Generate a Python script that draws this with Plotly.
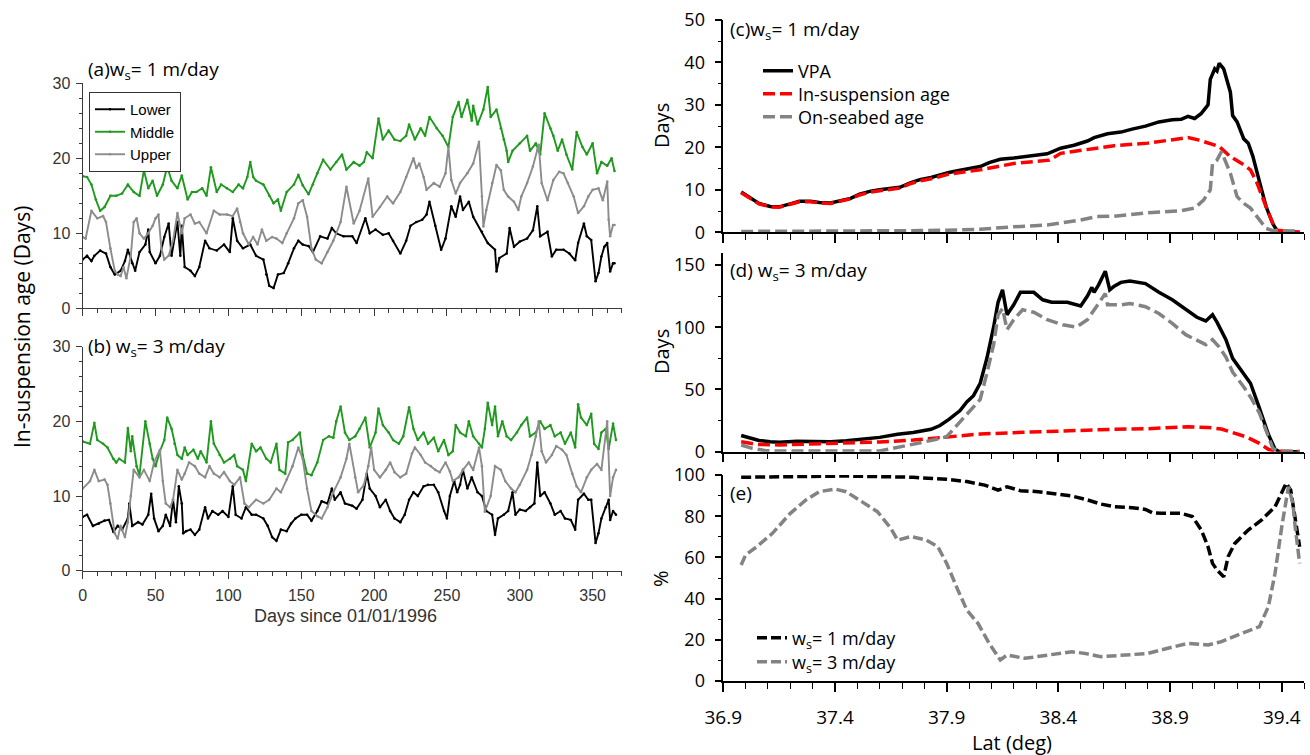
import plotly.graph_objects as go

W, H = 1310, 755

# ---------------- Panel (a): w_s = 1 m/day, in-suspension age by layer ----------------
a_lower_day = [0, 3, 6, 8, 12, 16, 19, 22, 26, 29, 31, 34, 36, 39, 43, 45, 46, 50, 53, 56, 59, 61, 63, 65, 67,
               68, 70, 74, 77, 80, 84, 87, 92, 97, 101, 103, 106, 110, 115, 119, 124, 126, 128, 131, 134, 138,
               141, 145, 148, 151, 155, 158, 163, 168, 171, 174, 179, 185, 188, 194, 197, 201, 206, 210, 213,
               218, 222, 225, 229, 233, 236, 238, 242, 246, 249, 253, 256, 259, 261, 265, 268, 274, 278, 283,
               284, 286, 291, 293, 296, 300, 305, 309, 312, 314, 319, 322, 325, 330, 334, 338, 340, 344, 346,
               349, 352, 354, 356, 358, 360, 362, 364, 365]
a_lower_age = [6.5, 7.0, 6.3, 7.0, 7.7, 7.3, 5.5, 4.5, 5.0, 6.3, 7.8, 6.0, 5.0, 7.5, 8.5, 10.5, 7.5, 6.0, 7.0, 9.5,
               11.3, 7.0, 9.5, 11.5, 7.0, 11.0, 5.5, 5.0, 4.3, 5.5, 9.0, 8.0, 7.7, 8.5, 7.5, 12.0, 9.0, 8.0, 8.5,
               7.0, 6.5, 4.5, 3.0, 2.7, 4.5, 4.7, 6.0, 8.0, 9.0, 8.5, 8.3, 7.5, 9.6, 9.3, 10.7, 10.0, 9.6, 9.6,
               8.7, 12.0, 10.0, 10.5, 9.8, 10.0, 9.0, 7.3, 9.0, 11.0, 11.5, 11.8, 12.5, 14.2, 11.0, 7.8, 9.3,
               13.6, 12.2, 14.9, 13.1, 14.2, 12.2, 10.2, 8.7, 7.8, 4.9, 6.7, 7.3, 10.7, 8.2, 8.9, 9.3, 10.4,
               13.6, 9.6, 10.2, 6.9, 7.8, 7.8, 7.3, 6.4, 8.7, 11.3, 9.6, 9.1, 3.6, 4.7, 6.9, 8.2, 8.7, 4.9,
               6.0, 6.0]

a_middle_day = [0, 3, 6, 9, 12, 15, 19, 23, 27, 31, 35, 39, 42, 45, 48, 51, 55, 58, 61, 65, 68, 72, 75, 78, 82,
                85, 88, 92, 95, 99, 103, 107, 110, 113, 115, 117, 119, 124, 128, 131, 134, 136, 140, 145, 148,
                151, 155, 158, 161, 165, 170, 174, 178, 181, 186, 190, 193, 195, 199, 203, 206, 210, 214, 218,
                222, 224, 228, 232, 235, 238, 243, 247, 251, 254, 258, 260, 264, 267, 268, 271, 275, 278, 280,
                284, 287, 289, 291, 292, 295, 300, 305, 307, 311, 314, 317, 321, 323, 326, 329, 332, 336, 339,
                343, 346, 350, 353, 356, 360, 363, 365]
a_middle_age = [17.6, 17.5, 16.5, 14.5, 13.0, 13.5, 15.0, 15.0, 15.3, 16.5, 15.5, 15.0, 18.4, 16.0, 17.0, 15.0,
                16.5, 18.9, 17.0, 16.0, 17.7, 14.5, 15.5, 15.5, 16.0, 15.0, 18.8, 15.5, 16.5, 16.0, 15.5, 16.5,
                16.0, 17.5, 19.5, 17.5, 17.0, 16.5, 15.0, 14.0, 14.5, 13.0, 15.5, 16.5, 17.8, 16.4, 15.2, 16.5,
                18.0, 19.8, 18.5, 19.5, 20.5, 18.5, 19.5, 19.0, 19.5, 20.8, 20.0, 25.3, 22.5, 23.7, 22.5, 22.3,
                23.0, 24.5, 22.5, 24.0, 23.0, 25.5, 24.0, 23.0, 21.5, 25.5, 27.5, 25.5, 27.8, 25.0, 27.0, 24.5,
                26.5, 29.5, 25.5, 26.5, 24.0, 22.5, 21.0, 19.5, 21.0, 22.0, 23.0, 21.0, 22.0, 20.5, 26.0, 24.0,
                23.0, 21.0, 22.5, 20.5, 18.5, 23.5, 21.5, 20.5, 22.0, 18.0, 19.5, 19.0, 20.0, 18.3]

a_upper_day = [0, 2, 6, 10, 14, 16, 19, 22, 24, 26, 28, 30, 33, 35, 37, 39, 42, 45, 48, 50, 52, 54, 56, 59, 62,
               65, 68, 70, 74, 77, 80, 85, 90, 94, 99, 103, 106, 108, 110, 114, 117, 120, 123, 126, 130, 133,
               137, 140, 145, 148, 151, 154, 157, 160, 164, 168, 172, 177, 181, 186, 190, 196, 199, 204, 209,
               213, 218, 222, 227, 229, 231, 234, 236, 241, 245, 249, 251, 253, 256, 259, 264, 268, 272, 274,
               275, 277, 281, 284, 287, 289, 292, 296, 299, 301, 305, 309, 312, 313, 315, 319, 323, 327, 330,
               333, 337, 340, 344, 347, 350, 354, 357, 360, 361, 362, 364, 365]
a_upper_age = [9.5, 9.3, 13.0, 12.0, 12.3, 11.5, 8.0, 5.0, 4.5, 4.3, 5.5, 4.0, 7.0, 11.5, 12.0, 10.0, 9.3, 10.0,
               11.0, 12.0, 12.5, 8.0, 6.5, 7.0, 9.0, 12.7, 10.0, 12.0, 12.5, 11.3, 11.5, 10.0, 13.0, 12.5, 12.5,
               12.3, 13.3, 11.5, 10.0, 8.5, 9.5, 8.5, 10.5, 9.0, 9.5, 9.3, 8.7, 10.0, 12.0, 14.0, 14.4, 12.2,
               8.0, 6.5, 6.0, 7.5, 9.0, 11.5, 16.2, 11.3, 13.0, 17.3, 12.2, 13.5, 14.9, 14.0, 15.5, 17.5, 20.0,
               18.7, 19.3, 17.5, 15.8, 16.7, 16.2, 18.0, 21.5, 17.1, 15.3, 16.7, 18.0, 19.3, 22.2, 14.9, 10.9,
               13.1, 16.7, 19.1, 18.4, 15.8, 14.9, 14.2, 13.1, 14.9, 16.7, 18.9, 21.1, 21.8, 16.7, 14.4, 17.1,
               18.2, 18.0, 16.7, 14.9, 12.7, 13.6, 14.9, 15.8, 16.0, 14.4, 16.9, 11.8, 9.6, 11.1, 11.1]

# ---------------- Panel (b): w_s = 3 m/day ----------------
b_lower_day = [0, 3, 7, 11, 15, 18, 21, 24, 27, 31, 32, 34, 38, 41, 45, 47, 49, 52, 55, 57, 60, 62, 64, 66, 68,
               69, 71, 74, 77, 80, 84, 86, 89, 93, 96, 100, 103, 105, 109, 112, 116, 119, 124, 127, 130, 133,
               136, 140, 143, 146, 150, 154, 157, 161, 164, 168, 171, 173, 177, 180, 185, 188, 192, 195, 197,
               201, 204, 208, 211, 214, 218, 221, 224, 227, 230, 234, 237, 241, 244, 248, 250, 252, 255, 257,
               259, 261, 264, 267, 271, 274, 277, 281, 283, 285, 289, 292, 295, 297, 300, 304, 307, 310, 312,
               314, 317, 321, 324, 328, 331, 335, 338, 340, 344, 347, 349, 352, 354, 356, 359, 361, 362, 364,
               366]
b_lower_age = [7.2, 7.5, 6.0, 6.3, 6.7, 6.8, 5.2, 6.0, 5.5, 7.0, 9.0, 6.0, 6.5, 6.2, 7.5, 10.3, 7.0, 5.3, 6.0,
               7.5, 6.0, 9.5, 6.5, 11.3, 9.0, 5.0, 5.3, 5.5, 4.8, 5.5, 8.5, 7.0, 8.0, 7.5, 8.0, 7.2, 11.3, 7.5,
               7.0, 8.5, 7.5, 7.5, 7.0, 6.0, 4.5, 4.0, 5.5, 5.3, 6.3, 7.0, 7.5, 7.5, 6.7, 8.0, 9.3, 9.0, 11.0,
               9.5, 10.5, 9.0, 8.7, 8.3, 9.5, 13.0, 11.0, 10.0, 8.5, 9.5, 8.0, 7.0, 6.5, 7.5, 9.5, 10.5, 10.0,
               11.3, 11.5, 11.5, 10.5, 8.0, 7.0, 10.0, 12.0, 10.5, 11.5, 13.5, 11.0, 12.5, 10.5, 10.0, 8.0, 7.5,
               4.8, 7.0, 7.5, 8.0, 10.5, 7.5, 8.2, 8.0, 8.5, 9.0, 14.5, 10.0, 10.5, 9.0, 7.5, 8.0, 7.0, 6.8, 5.5,
               9.5, 10.3, 9.5, 9.5, 3.7, 5.0, 7.0, 8.5, 9.5, 6.8, 8.0, 7.5]

b_middle_day = [0, 5, 8, 10, 14, 17, 21, 23, 25, 29, 31, 33, 34, 37, 39, 43, 46, 48, 50, 53, 56, 58, 61, 63, 65,
                68, 70, 72, 76, 79, 81, 85, 88, 90, 94, 97, 101, 104, 106, 110, 112, 116, 119, 122, 126, 129,
                133, 135, 139, 141, 144, 149, 151, 154, 157, 161, 165, 169, 172, 174, 177, 180, 183, 187, 190,
                194, 197, 201, 203, 206, 210, 213, 217, 220, 224, 227, 230, 234, 237, 241, 244, 248, 251, 254,
                256, 259, 263, 265, 268, 272, 274, 276, 278, 281, 283, 285, 288, 291, 294, 298, 301, 305, 307,
                311, 314, 317, 321, 324, 328, 331, 335, 338, 340, 342, 346, 349, 351, 354, 356, 359, 361, 364,
                366]
b_middle_age = [17.3, 17.0, 19.8, 17.5, 17.0, 16.5, 15.0, 14.5, 15.0, 14.5, 19.1, 16.0, 18.0, 14.0, 12.8, 20.0,
                17.0, 15.0, 14.0, 16.0, 17.5, 20.5, 19.0, 17.0, 15.5, 15.0, 16.5, 15.5, 16.2, 15.0, 16.0, 14.5,
                20.0, 17.0, 15.5, 14.5, 15.0, 15.5, 14.0, 13.5, 12.0, 17.0, 16.0, 16.5, 15.0, 14.5, 17.0, 13.5,
                13.0, 17.2, 17.5, 18.5, 15.5, 13.0, 12.8, 14.5, 17.5, 18.0, 17.8, 20.0, 22.0, 18.5, 17.5, 18.0,
                19.0, 20.5, 16.5, 18.5, 21.7, 19.5, 18.5, 17.5, 17.0, 18.0, 21.9, 19.0, 17.5, 18.5, 17.0, 17.8,
                16.0, 17.5, 15.5, 16.0, 19.5, 18.5, 18.0, 20.0, 18.0, 17.0, 16.5, 19.0, 22.5, 19.5, 22.0, 18.0,
                20.0, 18.0, 17.5, 18.5, 19.5, 20.5, 18.0, 18.5, 20.0, 19.0, 19.5, 18.0, 18.5, 17.0, 18.5, 16.5,
                22.3, 20.5, 19.5, 21.0, 17.0, 16.3, 18.5, 19.0, 16.3, 19.7, 17.5]

b_upper_day = [0, 5, 8, 11, 15, 17, 19, 22, 24, 26, 29, 31, 33, 35, 39, 42, 46, 49, 53, 55, 57, 60, 62, 65, 68,
               70, 73, 77, 80, 84, 87, 90, 94, 97, 101, 104, 108, 111, 114, 119, 124, 128, 133, 136, 140, 144,
               148, 151, 154, 157, 161, 164, 168, 172, 177, 181, 183, 187, 189, 193, 196, 198, 200, 204, 208,
               211, 214, 218, 222, 226, 228, 232, 235, 239, 242, 245, 249, 252, 254, 258, 261, 265, 268, 272,
               274, 276, 280, 283, 287, 290, 294, 297, 300, 305, 308, 311, 313, 315, 318, 322, 325, 329, 332,
               336, 339, 342, 346, 349, 353, 356, 360, 362, 364, 366]
b_upper_age = [11.0, 12.0, 13.5, 12.0, 12.2, 11.5, 9.0, 5.0, 4.3, 6.0, 4.5, 6.5, 10.0, 13.5, 12.5, 13.5, 12.0,
               14.5, 16.2, 12.0, 9.0, 8.5, 9.5, 13.5, 12.2, 13.0, 14.5, 14.0, 13.0, 12.5, 14.0, 13.0, 12.5, 13.2,
               12.0, 11.5, 12.5, 9.0, 8.5, 9.5, 9.0, 9.5, 11.0, 10.5, 12.2, 14.0, 16.5, 15.0, 11.0, 8.0, 7.3,
               7.0, 8.5, 10.5, 12.5, 15.0, 17.0, 12.5, 10.5, 11.5, 14.0, 16.5, 13.5, 12.5, 13.5, 14.5, 13.2,
               12.5, 13.0, 15.7, 16.5, 15.5, 14.5, 14.0, 13.5, 13.2, 14.5, 13.3, 12.0, 12.5, 13.5, 14.5, 13.5,
               16.5, 14.0, 7.9, 10.0, 14.0, 13.5, 12.0, 11.0, 10.5, 11.5, 13.5, 15.5, 18.0, 20.0, 16.0, 14.5,
               15.5, 16.7, 16.2, 15.5, 13.0, 11.3, 10.5, 12.5, 13.5, 14.3, 13.5, 20.0, 10.0, 12.5, 13.5]

# ---------------- Panel (c): w_s = 1 m/day, age along latitude ----------------
c_vpa_lat = [36.98, 37.02, 37.06, 37.11, 37.15, 37.20, 37.24, 37.29, 37.33, 37.38, 37.42, 37.47, 37.51, 37.56,
             37.60, 37.65, 37.69, 37.74, 37.78, 37.83, 37.87, 37.91, 37.96, 38.00, 38.05, 38.09, 38.14, 38.20,
             38.27, 38.35, 38.41, 38.47, 38.53, 38.56, 38.62, 38.68, 38.73, 38.79, 38.85, 38.91, 38.95, 38.98,
             39.01, 39.04, 39.07, 39.08, 39.10, 39.11, 39.12, 39.14, 39.17, 39.18, 39.20, 39.23, 39.25, 39.27,
             39.30, 39.33, 39.36, 39.38, 39.42, 39.48]
c_vpa = [9.5, 8.2, 6.8, 6.1, 6.0, 6.7, 7.3, 7.3, 7.0, 6.9, 7.3, 8.0, 9.0, 9.7, 10.0, 10.3, 10.6, 11.7, 12.4, 12.9,
         13.6, 14.1, 14.6, 15.0, 15.5, 16.4, 17.2, 17.5, 18.0, 18.5, 19.8, 20.5, 21.5, 22.3, 23.2, 23.6, 24.3,
         25.0, 26.0, 26.5, 26.6, 27.3, 26.8, 28.0, 30.0, 36.0, 38.5, 38.0, 39.8, 38.5, 33.0, 27.5, 26.0, 22.0,
         21.0, 18.0, 12.0, 6.0, 2.0, 0.3, 0.0, 0.0]

c_susp_lat = [36.98, 37.02, 37.06, 37.11, 37.15, 37.20, 37.24, 37.29, 37.33, 37.38, 37.42, 37.47, 37.51, 37.56,
              37.60, 37.65, 37.69, 37.74, 37.78, 37.83, 37.87, 37.91, 37.96, 38.00, 38.05, 38.20, 38.36, 38.41,
              38.57, 38.65, 38.80, 38.89, 38.98, 39.03, 39.09, 39.12, 39.17, 39.23, 39.26, 39.29, 39.33, 39.36,
              39.38, 39.48]
c_susp = [9.3, 8.0, 6.7, 6.0, 5.9, 6.6, 7.2, 7.2, 6.9, 6.8, 7.2, 7.9, 8.8, 9.5, 9.8, 10.1, 10.4, 11.5, 12.1, 12.6,
          13.2, 13.7, 14.1, 14.4, 14.7, 16.2, 17.0, 18.6, 19.8, 20.4, 21.0, 21.7, 22.3, 21.7, 20.8, 20.2, 17.8,
          15.9, 14.7, 11.5, 6.0, 2.1, 0.5, 0.0]

c_bed_lat = [36.98, 37.30, 37.60, 37.80, 37.90, 38.00, 38.05, 38.20, 38.35, 38.50, 38.57, 38.65, 38.80, 38.95,
             39.01, 39.05, 39.08, 39.09, 39.11, 39.13, 39.14, 39.17, 39.20, 39.23, 39.26, 39.30, 39.33, 39.36,
             39.48]
c_bed = [0.2, 0.2, 0.3, 0.4, 0.5, 0.6, 0.7, 1.3, 1.7, 2.9, 3.7, 3.8, 4.6, 5.1, 5.7, 7.6, 10.0, 16.2, 17.0, 19.0,
         17.8, 13.9, 8.4, 6.8, 5.7, 2.9, 0.9, 0.4, 0.3]

# ---------------- Panel (d): w_s = 3 m/day ----------------
d_vpa_lat = [36.98, 37.02, 37.06, 37.11, 37.15, 37.23, 37.30, 37.38, 37.45, 37.53, 37.60, 37.68, 37.75, 37.83,
             37.87, 37.91, 37.96, 37.99, 38.02, 38.05, 38.08, 38.11, 38.13, 38.15, 38.17, 38.20, 38.23, 38.29,
             38.33, 38.37, 38.44, 38.50, 38.53, 38.55, 38.56, 38.58, 38.61, 38.63, 38.65, 38.68, 38.72, 38.79,
             38.85, 38.91, 38.97, 39.02, 39.06, 39.09, 39.11, 39.15, 39.18, 39.23, 39.26, 39.30, 39.34, 39.37,
             39.39, 39.48]
d_vpa = [13, 11, 9, 8, 7.5, 8.3, 8, 8, 8.8, 10, 11.5, 14, 15.5, 18, 21, 26, 33, 40, 45, 55, 75, 100, 120, 130, 110,
         118, 128, 128, 122, 120, 120, 117, 125, 132, 128, 134, 145, 130, 133, 136, 137, 135, 128, 122, 114, 108,
         105, 110, 104, 90, 75, 63, 55, 35, 14, 2, 0, 0]

d_susp_lat = [36.98, 37.05, 37.15, 37.30, 37.45, 37.60, 37.75, 37.90, 38.05, 38.20, 38.35, 38.50, 38.65, 38.80,
              38.89, 38.98, 39.07, 39.13, 39.18, 39.24, 39.30, 39.34, 39.37, 39.48]
d_susp = [8.0, 5.9, 5.4, 6.2, 6.7, 7.8, 9.4, 12.0, 14.2, 15.3, 16.3, 16.9, 18.0, 18.5, 19.3, 20.0, 19.5, 18.2,
          15.3, 12.0, 6.7, 1.9, 0.5, 0.0]

d_bed_lat = [36.98, 37.03, 37.09, 37.15, 37.60, 37.66, 37.75, 37.84, 37.90, 37.94, 37.99, 38.02, 38.05, 38.08,
             38.11, 38.13, 38.15, 38.17, 38.20, 38.24, 38.29, 38.35, 38.42, 38.48, 38.53, 38.57, 38.61, 38.62,
             38.68, 38.72, 38.79, 38.85, 38.91, 38.97, 39.06, 39.09, 39.12, 39.15, 39.18, 39.23, 39.26, 39.30,
             39.34, 39.36, 39.39, 39.48]
d_bed = [5.4, 2.7, 0.8, 0.5, 0.5, 2.7, 5.4, 9.4, 12, 20, 31, 36, 42, 63, 86, 110, 115, 98, 106, 114, 112, 106,
         102, 100, 106, 116.5, 127, 118, 118, 119, 116.5, 111, 103, 94, 86, 90, 84, 76, 64, 52, 44, 31, 12, 2.7,
         0.5, 0.3]

# ---------------- Panel (e): share of in-suspension age (%) ----------------
e_ws1_lat = [36.98, 37.15, 37.30, 37.45, 37.60, 37.75, 37.90, 37.99, 38.07, 38.13, 38.17, 38.23, 38.31, 38.38,
             38.46, 38.53, 38.59, 38.65, 38.73, 38.79, 38.82, 38.86, 38.95, 39.00, 39.04, 39.07, 39.09, 39.11,
             39.14, 39.16, 39.19, 39.25, 39.31, 39.37, 39.40, 39.42, 39.44, 39.46, 39.48]
e_ws1 = [98.9, 99.2, 99.5, 99.5, 99.2, 98.9, 97.9, 96.8, 95.1, 92.7, 94.3, 92.4, 91.9, 91.1, 89.8, 87.9, 85.9,
         84.6, 84.1, 83.3, 81.7, 81.4, 81.4, 79.8, 73.3, 65.2, 57.1, 53.9, 50.6, 60.4, 66.8, 73.3, 78.2, 84.6,
         91.1, 96.0, 92.7, 78.2, 65.2]

e_ws3_lat = [36.98, 37.00, 37.05, 37.12, 37.20, 37.27, 37.33, 37.40, 37.45, 37.51, 37.59, 37.65, 37.68, 37.74,
             37.81, 37.86, 37.90, 37.95, 37.99, 38.04, 38.09, 38.14, 38.17, 38.25, 38.35, 38.46, 38.52, 38.59,
             38.70, 38.80, 38.89, 38.98, 39.07, 39.13, 39.22, 39.30, 39.34, 39.37, 39.40, 39.43, 39.45, 39.46,
             39.48]
e_ws3 = [56.3, 61.2, 65.2, 71.7, 81.4, 87.9, 91.9, 93.2, 91.9, 87.9, 82.2, 74.1, 68.4, 70.1, 68.4, 65.2, 57.1,
         44.2, 34.5, 28.0, 18.3, 10.2, 12.6, 11.0, 12.6, 14.2, 13.4, 11.8, 12.6, 13.4, 15.9, 18.3, 17.5, 19.1,
         23.1, 26.4, 36.1, 52.3, 74.9, 94.3, 86.2, 74.9, 57.1]

# ---------------- styling ----------------
GREEN = "#1f9a1f"
GREY_L = "#8c8c8c"
GREY_R = "#838383"
RED = "#ff0000"
LEFT_FONT = "Liberation Sans, Arial, sans-serif"
RIGHT_FONT = "Open Sans, sans-serif"


def px(x):
    return x / W


def py(y):
    return 1 - y / H


fig = go.Figure()

left_series = [
    ("Lower", "black"),
    ("Middle", GREEN),
    ("Upper", GREY_L),
]
a_data = [(a_lower_day, a_lower_age), (a_middle_day, a_middle_age), (a_upper_day, a_upper_age)]
b_data = [(b_lower_day, b_lower_age), (b_middle_day, b_middle_age), (b_upper_day, b_upper_age)]

for (name, col), (d, v) in zip(left_series, a_data):
    fig.add_trace(go.Scatter(x=d, y=v, name=name, mode="lines+markers", xaxis="x", yaxis="y",
                             line=dict(color=col, width=1.9), marker=dict(size=2.6, color=col),
                             legend="legend"))
for (name, col), (d, v) in zip(left_series, b_data):
    fig.add_trace(go.Scatter(x=d, y=v, name=name, mode="lines+markers", xaxis="x2", yaxis="y2",
                             line=dict(color=col, width=1.9), marker=dict(size=2.6, color=col),
                             showlegend=False))

DASH_CD = "12px,5px"
# panel (c): one legend box per entry so each row sits at its own height
fig.add_trace(go.Scatter(x=c_vpa_lat, y=c_vpa, name="VPA", mode="lines", xaxis="x3", yaxis="y3",
                         line=dict(color="black", width=3.5), legend="legend2"))
fig.add_trace(go.Scatter(x=c_susp_lat, y=c_susp, name="In-suspension age", mode="lines", xaxis="x3", yaxis="y3",
                         line=dict(color=RED, width=3.5, dash=DASH_CD), legend="legend4"))
fig.add_trace(go.Scatter(x=c_bed_lat, y=c_bed, name="On-seabed age", mode="lines", xaxis="x3", yaxis="y3",
                         line=dict(color=GREY_R, width=3.5, dash=DASH_CD), legend="legend5"))
# panel (d)
fig.add_trace(go.Scatter(x=d_vpa_lat, y=d_vpa, mode="lines", xaxis="x4", yaxis="y4", showlegend=False,
                         line=dict(color="black", width=3.5)))
fig.add_trace(go.Scatter(x=d_susp_lat, y=d_susp, mode="lines", xaxis="x4", yaxis="y4", showlegend=False,
                         line=dict(color=RED, width=3.5, dash=DASH_CD)))
fig.add_trace(go.Scatter(x=d_bed_lat, y=d_bed, mode="lines", xaxis="x4", yaxis="y4", showlegend=False,
                         line=dict(color=GREY_R, width=3.5, dash=DASH_CD)))
# panel (e)
DASH_E = "10px,4px"
fig.add_trace(go.Scatter(x=e_ws1_lat, y=e_ws1, name="w<sub>s</sub>= 1 m/day", mode="lines", xaxis="x5",
                         yaxis="y5", line=dict(color="black", width=3.5, dash=DASH_E), legend="legend3"))
fig.add_trace(go.Scatter(x=e_ws3_lat, y=e_ws3, name="w<sub>s</sub>= 3 m/day", mode="lines", xaxis="x5",
                         yaxis="y5", line=dict(color=GREY_R, width=3.5, dash=DASH_E), legend="legend6"))

# ---------------- axes ----------------
left_x_dom = [px(82.7), px(621.8)]
right_x_dom = [px(723.3), px(1304.1)]


def left_x(anchor, labels):
    return dict(domain=left_x_dom, anchor=anchor, range=[0, 370], tick0=0, dtick=50,
                showline=True, linecolor="#3a3a3a", linewidth=1.3, ticks="outside", ticklen=7,
                tickcolor="#3a3a3a", tickwidth=1.3, showgrid=False, zeroline=False,
                showticklabels=labels, ticklabelstandoff=3,
                tickfont=dict(family=LEFT_FONT, size=16, color="#333333"),
                minor=dict(dtick=10, ticks="outside", ticklen=4, tickcolor="#3a3a3a", tickwidth=1.2,
                           showgrid=False))


def left_y(anchor, dom):
    return dict(domain=dom, anchor=anchor, range=[0, 30], tick0=0, dtick=10,
                showline=True, linecolor="#3a3a3a", linewidth=1.3, ticks="outside", ticklen=6,
                tickcolor="#3a3a3a", tickwidth=1.3, showgrid=False, zeroline=False,
                ticklabelstandoff=2,
                tickfont=dict(family=LEFT_FONT, size=16, color="#333333"),
                minor=dict(dtick=2, ticks="outside", ticklen=3, tickcolor="#3a3a3a", tickwidth=1.2,
                           showgrid=False))


def right_x(anchor, labels):
    return dict(domain=right_x_dom, anchor=anchor, range=[36.9, 39.5], tick0=36.9, dtick=0.5,
                showline=True, linecolor="black", linewidth=1.5, ticks="outside", ticklen=9,
                tickcolor="black", tickwidth=1.5, showgrid=False, zeroline=False,
                showticklabels=labels, ticklabelstandoff=9,
                tickfont=dict(family=RIGHT_FONT, size=19, color="black"),
                minor=dict(dtick=0.1, tick0=36.9, ticks="outside", ticklen=6, tickcolor="black",
                           tickwidth=1.3, showgrid=False))


def right_y(anchor, dom, rng, dt, mdt):
    return dict(domain=dom, anchor=anchor, range=rng, tick0=0, dtick=dt,
                showline=True, linecolor="black", linewidth=1.5, ticks="outside", ticklen=7,
                tickcolor="black", tickwidth=1.5, showgrid=False, zeroline=False,
                ticklabelstandoff=6,
                tickfont=dict(family=RIGHT_FONT, size=18, color="black"),
                minor=dict(dtick=mdt, ticks="outside", ticklen=4, tickcolor="black", tickwidth=1.3,
                           showgrid=False))


def row_legend(x, y, size=18):
    return dict(x=px(x), y=py(y), xanchor="left", yanchor="middle", bgcolor="rgba(0,0,0,0)",
                font=dict(family=RIGHT_FONT, size=size, color="black"), tracegroupgap=0)


fig.update_layout(
    width=W, height=H,
    margin=dict(l=0, r=0, t=0, b=0, autoexpand=False),
    paper_bgcolor="white", plot_bgcolor="white",
    xaxis=left_x("y", False),
    yaxis=left_y("x", [py(308.3), py(83.3)]),
    xaxis2=left_x("y2", True),
    yaxis2=left_y("x2", [py(570.7), py(346.7)]),
    xaxis3=right_x("y3", False),
    yaxis3=right_y("x3", [py(232.3), py(20)], [0, 50], 10, 5),
    xaxis4=right_x("y4", False),
    yaxis4=right_y("x4", [py(451.7), py(252.5)], [0, 160], 50, 25),
    xaxis5=right_x("y5", True),
    yaxis5=right_y("x5", [py(681), py(475)], [0, 100], 20, 10),
    legend=dict(x=px(89), y=py(92), xanchor="left", yanchor="top", bgcolor="white",
                bordercolor="#333333", borderwidth=1, font=dict(family=LEFT_FONT, size=15, color="black"),
                tracegroupgap=0),
    legend2=row_legend(758, 71),
    legend4=row_legend(758, 94),
    legend5=row_legend(758, 117),
    legend3=row_legend(752, 638),
    legend6=row_legend(752, 662),
    showlegend=True,
)

ann_font = dict(family=RIGHT_FONT, size=19, color="black")
annotations = [
    dict(text="(a)w<sub>s</sub>= 1 m/day", x=px(86), y=py(70)),
    dict(text="(b) w<sub>s</sub>= 3 m/day", x=px(86), y=py(347)),
    dict(text="(c)w<sub>s</sub>= 1 m/day", x=px(728), y=py(30)),
    dict(text="(d) w<sub>s</sub>= 3 m/day", x=px(728), y=py(271)),
    dict(text="(e)", x=px(728), y=py(493)),
]
for a in annotations:
    fig.add_annotation(xref="paper", yref="paper", xanchor="left", yanchor="middle", showarrow=False,
                       font=ann_font, **a)


def centered_text(text, x, y, size=20, angle=0, family=RIGHT_FONT, color="black"):
    fig.add_annotation(text=text, xref="paper", yref="paper", x=px(x), y=py(y), textangle=angle,
                       xanchor="center", yanchor="middle", showarrow=False,
                       font=dict(family=family, size=size, color=color))


centered_text("In-suspension age (Days)", 22, 327, size=21, angle=-90)
centered_text("Days since 01/01/1996", 346, 616, size=18, family=LEFT_FONT, color="#333333")
centered_text("Days", 661, 126, angle=-90)
centered_text("Days", 661, 352, angle=-90)
centered_text("%", 660, 578, angle=-90)
centered_text("Lat (deg)", 1012, 742)

fig.write_html("out.html")
